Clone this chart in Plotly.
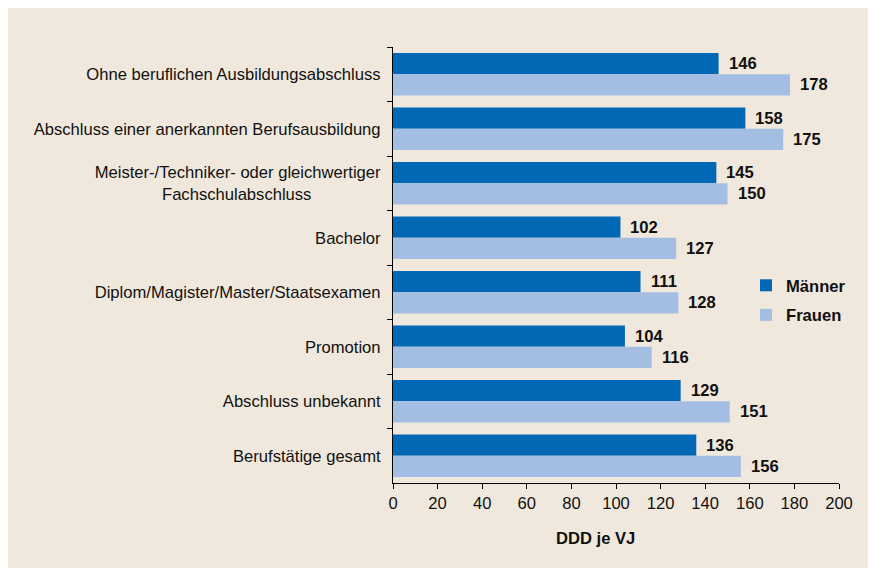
import plotly.graph_objects as go

categories = [
    "Ohne beruflichen Ausbildungsabschluss",
    "Abschluss einer anerkannten Berufsausbildung",
    "Meister-/Techniker- oder gleichwertiger<br>Fachschulabschluss" + "\u00a0" * 15,
    "Bachelor",
    "Diplom/Magister/Master/Staatsexamen",
    "Promotion",
    "Abschluss unbekannt",
    "Berufstätige gesamt",
]
maenner = [146, 158, 145, 102, 111, 104, 129, 136]
frauen = [178, 175, 150, 127, 128, 116, 151, 156]
x_ticks = [0, 20, 40, 60, 80, 100, 120, 140, 160, 180, 200]

FONT = "Liberation Sans, Arial, sans-serif"
FS = 16.6
BEIGE = "#F0E8DC"
DARK = "#0068B4"
LIGHT = "#A4BEE3"
TXT = "#111111"

OFF = 8  # page body margin
W, H = 884, 576  # extends past the window edge; overflow hidden
# plot area in page pixels: left 393, right 839, top 47, bottom 483
L = 393 - OFF
R = W - (839 - OFF)
T = 47 - OFF
B = H - (483 - OFF)
pw, ph = W - L - R, H - T - B

def px_x(page_x):
    return (page_x - OFF - L) / pw

def px_y(page_y):
    return (H - B - (page_y - OFF)) / ph

fig = go.Figure()
fig.add_trace(go.Bar(y=categories, x=maenner, name="Männer", orientation="h",
                     marker=dict(color=DARK, line=dict(width=0)), legendgroup="m"))
fig.add_trace(go.Bar(y=categories, x=frauen, name="Frauen", orientation="h",
                     marker=dict(color=LIGHT, line=dict(width=0)), legendgroup="f"))

annotations = []
for c, m, f in zip(categories, maenner, frauen):
    annotations.append(dict(x=m, y=c, text=str(m), xref="x", yref="y", showarrow=False,
                            xanchor="left", yanchor="middle", xshift=8, yshift=10.7,
                            font=dict(family=FONT, size=FS, color=TXT, weight="bold")))
    annotations.append(dict(x=f, y=c, text=str(f), xref="x", yref="y", showarrow=False,
                            xanchor="left", yanchor="middle", xshift=8, yshift=-10.7,
                            font=dict(family=FONT, size=FS, color=TXT, weight="bold")))
annotations.append(dict(x=px_x(595), y=px_y(538), xref="paper", yref="paper",
                        text="<b>DDD je VJ</b>", showarrow=False, xanchor="center", yanchor="middle",
                        font=dict(family=FONT, size=FS, color=TXT)))

fig.update_layout(
    width=W, height=H,
    margin=dict(l=L, r=R, t=T, b=B, pad=0),
    paper_bgcolor=BEIGE,
    plot_bgcolor="rgba(0,0,0,0)",
    barmode="group",
    bargap=0.22,
    bargroupgap=0,
    font=dict(family=FONT, size=FS, color=TXT),
    showlegend=True,
    legend=dict(x=px_x(746), y=px_y(268), xanchor="left", yanchor="top",
                bgcolor="rgba(0,0,0,0)", tracegroupgap=5,
                font=dict(family=FONT, size=FS, color=TXT, weight="bold")),
    annotations=annotations,
    xaxis=dict(range=[0, 200], tickvals=x_ticks, showgrid=False, zeroline=False,
               showline=True, linecolor="black", linewidth=1.2,
               ticks="outside", ticklen=5, tickcolor="black", tickwidth=1.2,
               tickfont=dict(family=FONT, size=FS, color=TXT)),
    yaxis=dict(autorange="reversed", showgrid=False, zeroline=False,
               showline=True, linecolor="black", linewidth=1.2,
               ticks="outside", ticklen=5, tickcolor="black", tickwidth=1.2,
               tickson="boundaries", ticklabelstandoff=8,
               tickfont=dict(family=FONT, size=FS, color=TXT)),
)

fig.write_html(
    "out.html",
    post_script="document.documentElement.style.overflow='hidden';document.body.style.overflow='hidden';",
)
